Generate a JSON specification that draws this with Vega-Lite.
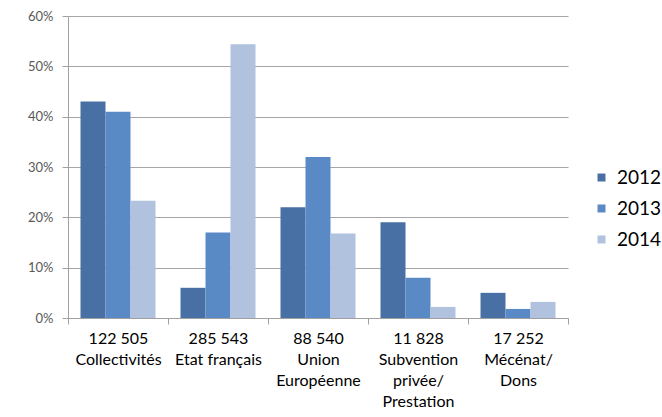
{
  "$schema": "https://vega.github.io/schema/vega-lite/v6.json",
  "autosize": {"type": "none"},
  "width": 500,
  "height": 302,
  "padding": {"left": 68, "top": 16, "right": 94, "bottom": 99},
  "background": "white",
  "config": {"view": {"stroke": null}, "font": "Lato"},
  "data": {
    "values": [
      {"cat": "122 505|Collectivités", "year": "2012", "share": 0.43},
      {"cat": "122 505|Collectivités", "year": "2013", "share": 0.41},
      {"cat": "122 505|Collectivités", "year": "2014", "share": 0.233},
      {"cat": "285 543|Etat français", "year": "2012", "share": 0.06},
      {"cat": "285 543|Etat français", "year": "2013", "share": 0.17},
      {"cat": "285 543|Etat français", "year": "2014", "share": 0.544},
      {"cat": "88 540|Union|Européenne", "year": "2012", "share": 0.22},
      {"cat": "88 540|Union|Européenne", "year": "2013", "share": 0.32},
      {"cat": "88 540|Union|Européenne", "year": "2014", "share": 0.168},
      {"cat": "11 828|Subvention|privée/|Prestation", "year": "2012", "share": 0.19},
      {"cat": "11 828|Subvention|privée/|Prestation", "year": "2013", "share": 0.08},
      {"cat": "11 828|Subvention|privée/|Prestation", "year": "2014", "share": 0.022},
      {"cat": "17 252|Mécénat/|Dons", "year": "2012", "share": 0.05},
      {"cat": "17 252|Mécénat/|Dons", "year": "2013", "share": 0.018},
      {"cat": "17 252|Mécénat/|Dons", "year": "2014", "share": 0.032}
    ]
  },
  "mark": {"type": "bar"},
  "encoding": {
    "x": {
      "field": "cat",
      "type": "nominal",
      "sort": null,
      "scale": {"paddingInner": 0, "paddingOuter": 0},
      "axis": {
        "title": null,
        "labelAngle": 0,
        "tickBand": "extent",
        "labelExpr": "split(datum.label, '|')",
        "labelFontSize": 16,
        "labelColor": "#000000",
        "labelLineHeight": 21,
        "labelPadding": 6,
        "labelBaseline": "top",
        "domainColor": "#a0a0a0",
        "tickColor": "#a0a0a0",
        "tickSize": 6,
        "labelLimit": 200
      }
    },
    "xOffset": {
      "field": "year",
      "type": "nominal",
      "scale": {"paddingOuter": 0.5, "paddingInner": 0}
    },
    "y": {
      "field": "share",
      "type": "quantitative",
      "scale": {"domain": [0, 0.6], "nice": false},
      "axis": {
        "title": null,
        "format": ".0%",
        "values": [0, 0.1, 0.2, 0.3, 0.4, 0.5, 0.6],
        "grid": true,
        "gridColor": "#a6a6a6",
        "domainColor": "#a0a0a0",
        "tickColor": "#a0a0a0",
        "tickSize": 6,
        "labelFontSize": 13,
        "labelColor": "#595959",
        "labelPadding": 9
      }
    },
    "color": {
      "field": "year",
      "type": "nominal",
      "scale": {"domain": ["2012", "2013", "2014"], "range": ["#4870a4", "#5a8ac6", "#b1c2de"]},
      "legend": {
        "title": null,
        "orient": "none",
        "legendX": 524,
        "legendY": 152,
        "labelFontSize": 19,
        "labelColor": "#000000",
        "symbolType": "square",
        "symbolSize": 64,
        "symbolStrokeWidth": 0,
        "rowPadding": 11,
        "labelOffset": 6,
        "labelLimit": 200
      }
    }
  }
}
